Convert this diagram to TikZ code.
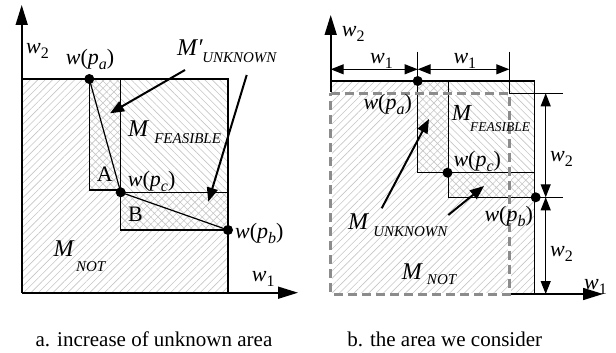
\documentclass[tikz,border=0pt]{standalone}
\usepackage{fontspec}
\setmainfont{Liberation Serif}
\usetikzlibrary{arrows.meta,patterns.meta}
\definecolor{hatchgray}{RGB}{198,198,198}
\definecolor{dashgray}{RGB}{140,140,140}
\newcommand{\wsub}[1]{\textit{w}\raisebox{-5pt}{\fontsize{16}{16}\selectfont #1}}
\newcommand{\wpt}[1]{\textit{w}(\textit{p}\raisebox{-5pt}{\fontsize{16}{16}\selectfont\itshape #1})}
\newcommand{\Msub}[3]{{\fontsize{24}{26}\selectfont\textit{M}}\kern#3\raisebox{-#2}{\fontsize{15}{15}\selectfont\itshape #1}}
\newcommand{\Msubs}[3]{{\fontsize{23}{26}\selectfont\textit{M}}\kern#3\raisebox{-#2}{\fontsize{13.5}{15}\selectfont\itshape #1}}
\begin{document}
\begin{tikzpicture}[x=1pt,y=-1pt,
 lab/.style={inner sep=0pt, anchor=base west, font=\fontsize{22}{24}\selectfont},
 captxt/.style={inner sep=0pt, anchor=base, font=\fontsize{21}{24}\selectfont},
 box/.style={draw=black, line width=1.2pt},
 notp/.style={pattern={Lines[angle=45,distance=5.2pt,line width=0.6pt]}, pattern color=hatchgray},
 feasp/.style={pattern={Lines[angle=-45,distance=5.2pt,line width=0.6pt]}, pattern color=hatchgray},
 unkp/.style={pattern={Hatch[angle=45,distance=5.2pt,line width=0.6pt]}, pattern color=hatchgray},
 axisline/.style={line width=1.6pt, -{Triangle[length=20pt,width=12pt]}},
 ann/.style={line width=2pt, -{Triangle[length=14pt,width=11pt]}},
 dimline/.style={line width=1.1pt, {Triangle[length=13pt,width=10pt]}-{Triangle[length=13pt,width=10pt]}},
 thin/.style={line width=1.1pt},
 dot/.style={circle, fill=black, inner sep=0pt, minimum size=10pt},
]
\useasboundingbox (0,0) rectangle (616,353);

%%%%%%%%%%%%%%%% LEFT %%%%%%%%%%%%%%%%
% regions
\fill[notp] (21.7,79) rectangle (228,292.7);
\fill[white] (120.7,79) rectangle (228,192.3);
\fill[feasp] (120.7,79) rectangle (228,192.3);
\fill[white] (89.3,79) rectangle (120.7,190);
\fill[unkp] (89.3,79) rectangle (120.7,190);
\fill[white] (120.7,192.3) rectangle (228,230);
\fill[unkp] (120.7,192.3) rectangle (228,230);
% borders
\draw[box] (21.7,79) rectangle (228,292.7);
\draw[box] (89.3,79) rectangle (120.7,190);
\draw[box] (120.7,79) -- (120.7,230) -- (228,230);
\draw[box] (120.7,192.3) -- (228,192.3);
\draw[line width=2pt] (89.3,79) -- (120.7,79);
% axes
\coordinate (oL) at (21.7,292.7);
\coordinate (yL) at (21.7,5);
\coordinate (xL) at (298,292.7);
\draw[axisline] (oL) -- (yL);
\draw[axisline] (oL) -- (xL);
% points
\node[dot] (pa) at (89.3,79) {};
\node[dot] (pc) at (120.7,192.3) {};
\node[dot] (pb) at (228,230) {};
\draw[line width=1.2pt] (pa.center) -- (pc.center) -- (pb.center);
% labels
\node[lab] (w2a) at (26,53.3) {\wsub{2}};
\node[lab] (paL) at (65.7,65) {\wpt{a}};
\node[lab] (MuL) at (177,56) {{\fontsize{24}{26}\selectfont\textit{M}\rlap{\kern-1pt\textit{′}}}\kern4pt\raisebox{-6.5pt}{\fontsize{15}{15}\selectfont\itshape UNKNOWN}};
\node[lab] (MfL) at (128,136) {\Msub{FEASIBLE}{7pt}{5pt}};
\node[lab] (AL) at (96.7,181.7) {A};
\node[lab] (pcL) at (127.7,186) {\wpt{c}};
\node[lab] (BL) at (128,221.7) {B};
\node[lab] (pbL) at (235,238.3) {\wpt{b}};
\node[lab] (MnL) at (53.3,256.7) {\Msub{NOT}{15pt}{1.5pt}};
\node[lab] (w1a) at (251.7,281.7) {\wsub{1}};
% annotation arrows
\coordinate (a1s) at (185,70);
\coordinate (a1e) at (110,113.3);
\coordinate (a2s) at (246.7,75);
\coordinate (a2e) at (208.3,201.7);
\draw[ann] (a1s) -- (a1e);
\draw[ann] (a2s) -- (a2e);
\node[captxt] (capa) at (154,346.7) {a. increase of unknown area};

%%%%%%%%%%%%%%%% RIGHT %%%%%%%%%%%%%%%%
\fill[notp] (330.7,81) rectangle (534.3,294);
\fill[white] (448.3,81) rectangle (534.3,172.7);
\fill[feasp] (448.3,81) rectangle (534.3,172.7);
\fill[white] (417.7,81) rectangle (448.3,172.7);
\fill[unkp] (417.7,81) rectangle (448.3,172.7);
\fill[white] (448.3,172.7) rectangle (534.3,197.3);
\fill[unkp] (448.3,172.7) rectangle (534.3,197.3);
\draw[box] (330.7,81) rectangle (534.3,294);
\draw[box] (417.7,81) -- (417.7,172.7) -- (448.3,172.7);
\draw[box] (448.3,81) -- (448.3,197.3) -- (534.3,197.3);
\draw[box] (448.3,172.7) -- (534.3,172.7);
% axes
\coordinate (oR) at (330.7,294);
\coordinate (yR) at (330.7,15);
\coordinate (xR) at (603,294);
\draw[axisline] (oR) -- (yR);
\draw[axisline] (oR) -- (xR);
% dashed area
\draw[white, line width=3pt] (330.7,93.3) -- (509.3,93.3) -- (509.3,294) -- (330.7,294) -- cycle;
\draw[dashgray, line width=3pt, dash pattern=on 9pt off 5pt] (330.7,93.3) -- (509.3,93.3) -- (509.3,294) -- (330.7,294) -- cycle;
% points
\node[dot] (pa2) at (417.7,81) {};
\node[dot] (pc2) at (447.5,172.7) {};
\node[dot] (pb2) at (535.7,197.3) {};
% dimensions
\coordinate (t0) at (330.7,69.3);
\coordinate (t1) at (417.7,69.3);
\coordinate (t2) at (509.3,69.3);
\coordinate (t1a) at (417.7,51.7);
\coordinate (t2a) at (509.3,51.7);
\coordinate (t2b) at (509.3,93.3);
\draw[thin] (t1a) -- (pa2.center);
\draw[thin] (t2a) -- (t2b);
\draw[dimline] (t0) -- (t1);
\draw[dimline] (t1) -- (t2);
\coordinate (r1) at (563,93.3);
\coordinate (r2a) at (534.3,197.3);
\coordinate (r2) at (563,197.3);
\draw[thin] (t2b) -- (r1);
\draw[thin] (r2a) -- (r2);
\coordinate (v0) at (545.7,93.3);
\coordinate (v1) at (545.7,197.3);
\coordinate (v2) at (545.7,294);
\draw[dimline] (v0) -- (v1);
\draw[dimline] (v1) -- (v2);
% labels
\node[lab] (w2b) at (341.7,36.7) {\wsub{2}};
\node[lab] (w1b) at (370,63.3) {\wsub{1}};
\node[lab] (w1c) at (453.3,63.3) {\wsub{1}};
\node[lab] (paR) at (363.3,110) {\wpt{a}};
\node[lab] (MfR) at (451.7,121) {\Msubs{FEASIBLE}{10pt}{-2pt}};
\node[lab] (pcR) at (453.3,166.7) {\wpt{c}};
\node[lab] (pbR) at (484.3,221.7) {\wpt{b}};
\node[lab] (MuR) at (348,229.3) {\Msub{UNKNOWN}{7pt}{4pt}};
\node[lab] (MnR) at (401.7,279) {\Msub{NOT}{5pt}{4pt}};
\node[lab] (w2c) at (550,161.7) {\wsub{2}};
\node[lab] (w2d) at (550,256.7) {\wsub{2}};
\node[lab] (w1d) at (584,289) {\wsub{1}};
% annotation arrows
\coordinate (b1s) at (381.7,208.3);
\coordinate (b1e) at (429,119);
\coordinate (b2s) at (448.3,215);
\coordinate (b2e) at (484,186);
\draw[ann] (b1s) -- (b1e);
\draw[ann] (b2s) -- (b2e);
\node[captxt] (capb) at (444.7,346.7) {b. the area we consider};
\end{tikzpicture}
\end{document}
